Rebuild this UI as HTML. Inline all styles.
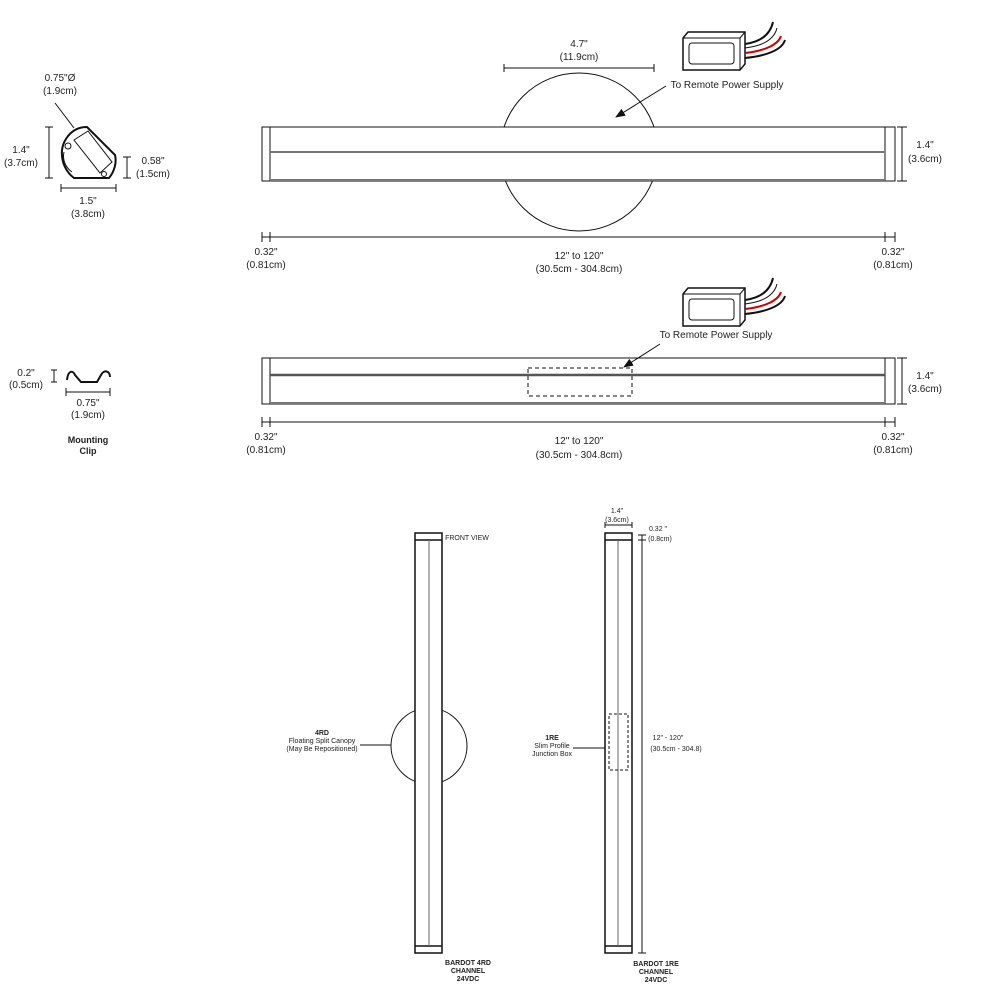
<!DOCTYPE html>
<html><head><meta charset="utf-8"><style>html,body{margin:0;padding:0;background:#fff}svg{display:block}text{font-family:"Liberation Sans",sans-serif;fill:#222}</style></head><body>
<svg width="1000" height="1000" viewBox="0 0 1000 1000" xmlns="http://www.w3.org/2000/svg">
<defs><marker id="ar" markerWidth="10" markerHeight="8" refX="9" refY="4" orient="auto" markerUnits="userSpaceOnUse"><path d="M0,0 L10,4 L0,8 Z" fill="#111"/></marker></defs>
<g stroke="#111" fill="none" stroke-width="1">
<!-- top bar -->
<circle cx="579" cy="152" r="79"/>
<rect x="262" y="127" width="633" height="54" fill="#fff"/>
<line x1="270" y1="127" x2="270" y2="181"/>
<line x1="885" y1="127" x2="885" y2="181"/>
<line x1="270" y1="152" x2="885" y2="152" stroke="#777" stroke-width="2"/>
<line x1="270" y1="180" x2="885" y2="180" stroke="#777" stroke-width="2"/>
<line x1="504" y1="68" x2="654" y2="68"/><line x1="504" y1="64" x2="504" y2="72"/><line x1="654" y1="64" x2="654" y2="72"/>
<line x1="666" y1="86" x2="616" y2="117" marker-end="url(#ar)"/>
<line x1="902" y1="127" x2="902" y2="181"/><line x1="897" y1="127" x2="907" y2="127"/><line x1="897" y1="181" x2="907" y2="181"/>
<line x1="262" y1="237" x2="895" y2="237"/>
<line x1="262" y1="232" x2="262" y2="242"/><line x1="270" y1="232" x2="270" y2="242"/><line x1="885" y1="232" x2="885" y2="242"/><line x1="895" y1="232" x2="895" y2="242"/>
<!-- power supply 1 -->
<g>
<path d="M683,38 L688,32 L745,32 L745,64 L740,70 L683,70 Z" fill="#fff" stroke-width="1.5"/>
<path d="M683,38 L740,38 L740,70 M740,38 L745,32"/>
<rect x="689" y="43" width="45" height="21" rx="3"/>
<path d="M745,44 C760,42 770,35 773,22" stroke-width="2"/>
<path d="M745,48 C762,46 774,40 777,28"/>
<path d="M745,53 C764,51 778,45 781,36" stroke="#c00" stroke-width="2"/>
<path d="M745,58 C766,56 782,50 785,40" stroke-width="2"/>
</g>
<g transform="translate(0,256)">
<path d="M683,38 L688,32 L745,32 L745,64 L740,70 L683,70 Z" fill="#fff" stroke-width="1.5"/>
<path d="M683,38 L740,38 L740,70 M740,38 L745,32"/>
<rect x="689" y="43" width="45" height="21" rx="3"/>
<path d="M745,44 C760,42 770,35 773,22" stroke-width="2"/>
<path d="M745,48 C762,46 774,40 777,28"/>
<path d="M745,53 C764,51 778,45 781,36" stroke="#c00" stroke-width="2"/>
<path d="M745,58 C766,56 782,50 785,40" stroke-width="2"/>
</g>
<!-- second bar -->
<rect x="262" y="358" width="633" height="46"/>
<line x1="270" y1="358" x2="270" y2="404"/><line x1="885" y1="358" x2="885" y2="404"/>
<line x1="270" y1="375" x2="885" y2="375" stroke="#555" stroke-width="2.5"/>
<line x1="270" y1="403" x2="885" y2="403" stroke="#777" stroke-width="2"/>
<rect x="528" y="368" width="104" height="28" stroke-dasharray="4,3"/>
<line x1="660" y1="344" x2="624" y2="367" marker-end="url(#ar)"/>
<line x1="902" y1="358" x2="902" y2="404"/><line x1="897" y1="358" x2="907" y2="358"/><line x1="897" y1="404" x2="907" y2="404"/>
<line x1="262" y1="422" x2="895" y2="422"/>
<line x1="262" y1="417" x2="262" y2="427"/><line x1="270" y1="417" x2="270" y2="427"/><line x1="885" y1="417" x2="885" y2="427"/><line x1="895" y1="417" x2="895" y2="427"/>
<!-- profile -->
<path d="M75,130 C80,127 84,127 87,127 L115,155 C117,163 114,172 109,178 L74,178 C66,172 61,162 62,150 C63,142 68,134 75,130 Z" stroke-width="2" fill="#fff"/>
<path d="M74,140 L88,131 L112,162 L100,173 Z"/>
<path d="M64,152 C62,160 66,168 72,172"/>
<circle cx="68" cy="146" r="3"/>
<circle cx="104" cy="174" r="2.5"/>
<line x1="55" y1="103" x2="74" y2="128"/>
<line x1="49" y1="127" x2="49" y2="178"/><line x1="45" y1="127" x2="53" y2="127"/><line x1="45" y1="178" x2="53" y2="178"/>
<line x1="127" y1="157" x2="127" y2="178"/><line x1="123" y1="157" x2="131" y2="157"/><line x1="123" y1="178" x2="131" y2="178"/>
<line x1="61" y1="188" x2="116" y2="188"/><line x1="61" y1="184" x2="61" y2="192"/><line x1="116" y1="184" x2="116" y2="192"/>
<!-- clip -->
<path d="M67,380 C68,370 73,370 75,375 L81,382 L97,382 L101,375 C104,369 110,371 110,377" stroke-width="2"/>
<line x1="54" y1="370" x2="54" y2="382"/><line x1="51" y1="370" x2="57" y2="370"/><line x1="51" y1="382" x2="57" y2="382"/>
<line x1="66" y1="392" x2="110" y2="392"/><line x1="66" y1="388" x2="66" y2="396"/><line x1="110" y1="388" x2="110" y2="396"/>
<!-- vertical left -->
<circle cx="429" cy="746" r="38"/>
<rect x="415" y="533" width="27" height="420" fill="#fff" stroke-width="1.5"/>
<line x1="415" y1="540" x2="442" y2="540" stroke-width="1.5"/><line x1="415" y1="946" x2="442" y2="946" stroke-width="1.5"/>
<line x1="429" y1="540" x2="429" y2="946" stroke="#666"/>
<line x1="360" y1="745" x2="391" y2="745"/>
<!-- vertical right -->
<rect x="605" y="533" width="27" height="420" stroke-width="1.5"/>
<line x1="605" y1="540" x2="632" y2="540" stroke-width="1.5"/><line x1="605" y1="946" x2="632" y2="946" stroke-width="1.5"/>
<line x1="618" y1="540" x2="618" y2="946" stroke="#666"/>
<rect x="609" y="714" width="19" height="56" stroke-dasharray="3,2"/>
<line x1="573" y1="748" x2="605" y2="748"/>
<line x1="642" y1="535" x2="642" y2="953"/><line x1="638" y1="535" x2="646" y2="535"/><line x1="638" y1="540" x2="646" y2="540"/><line x1="638" y1="953" x2="646" y2="953"/>
<line x1="605" y1="525" x2="632" y2="525"/><line x1="605" y1="522" x2="605" y2="528"/><line x1="632" y1="522" x2="632" y2="528"/>
</g>
<g font-size="10" text-anchor="middle">
<text x="579" y="47">4.7"</text><text x="579" y="60">(11.9cm)</text>
<text x="727" y="88">To Remote Power Supply</text>
<text x="925" y="148">1.4"</text><text x="925" y="162">(3.6cm)</text>
<text x="266" y="255">0.32"</text><text x="266" y="268">(0.81cm)</text>
<text x="579" y="259">12" to 120"</text><text x="579" y="272">(30.5cm - 304.8cm)</text>
<text x="893" y="255">0.32"</text><text x="893" y="268">(0.81cm)</text>
<text x="716" y="338">To Remote Power Supply</text>
<text x="925" y="379">1.4"</text><text x="925" y="392">(3.6cm)</text>
<text x="266" y="440">0.32"</text><text x="266" y="453">(0.81cm)</text>
<text x="579" y="444">12" to 120"</text><text x="579" y="458">(30.5cm - 304.8cm)</text>
<text x="893" y="440">0.32"</text><text x="893" y="453">(0.81cm)</text>
<text x="60" y="81">0.75"Ø</text><text x="60" y="94">(1.9cm)</text>
<text x="21" y="153">1.4"</text><text x="21" y="166">(3.7cm)</text>
<text x="153" y="164">0.58"</text><text x="153" y="177">(1.5cm)</text>
<text x="88" y="204">1.5"</text><text x="88" y="217">(3.8cm)</text>
<text x="26" y="376">0.2"</text><text x="26" y="388">(0.5cm)</text>
<text x="88" y="406">0.75"</text><text x="88" y="418">(1.9cm)</text>
<text x="88" y="443" font-weight="bold" font-size="9">Mounting</text><text x="88" y="454" font-weight="bold" font-size="9">Clip</text>
</g>
<g font-size="7" text-anchor="middle">
<text x="467" y="540">FRONT VIEW</text>
<text x="322" y="735" font-weight="bold">4RD</text><text x="322" y="743">Floating Split Canopy</text><text x="322" y="751">(May Be Repositioned)</text>
<text x="552" y="740" font-weight="bold">1RE</text><text x="552" y="748">Slim Profile</text><text x="552" y="756">Junction Box</text>
<text x="617" y="513">1.4"</text><text x="617" y="522">(3.6cm)</text>
<text x="658" y="531">0.32 "</text><text x="660" y="541">(0.8cm)</text>
<text x="668" y="740">12" - 120"</text><text x="676" y="751">(30.5cm - 304.8)</text>
<text x="468" y="965" font-weight="bold">BARDOT 4RD</text><text x="468" y="973" font-weight="bold">CHANNEL</text><text x="468" y="981" font-weight="bold">24VDC</text>
<text x="656" y="966" font-weight="bold">BARDOT 1RE</text><text x="656" y="974" font-weight="bold">CHANNEL</text><text x="656" y="982" font-weight="bold">24VDC</text>
</g>
</svg>
</body></html>
